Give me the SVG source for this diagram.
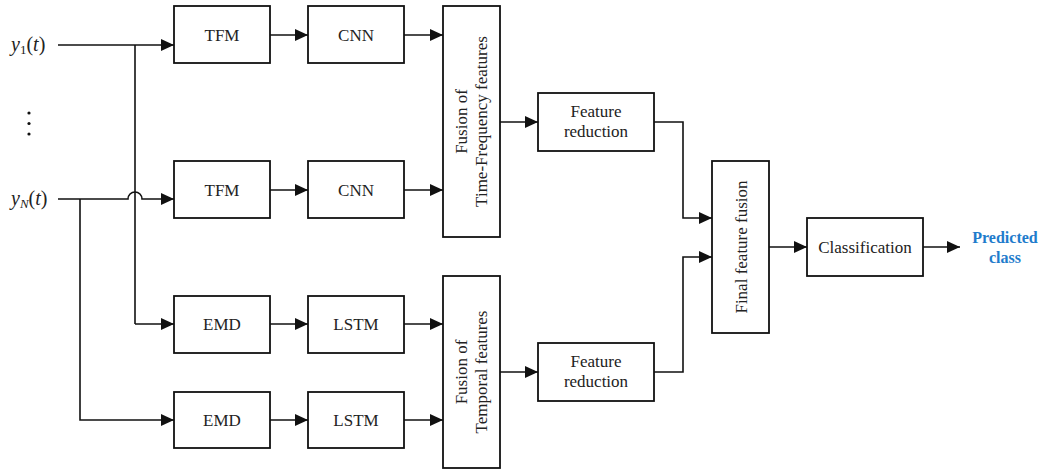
<svg xmlns="http://www.w3.org/2000/svg" width="1042" height="471" viewBox="0 0 1042 471">
  <style>
    .box { fill: #ffffff; stroke: #111111; stroke-width: 1.8; }
    .lbl { font-family: "Liberation Serif", "Times New Roman", serif; font-size: 17px; fill: #222222; text-anchor: middle; }
    .sig { font-family: "Liberation Serif", "Times New Roman", serif; font-size: 20px; fill: #222222; }
    .out { font-family: "Liberation Serif", "Times New Roman", serif; font-size: 16px; font-weight: bold; fill: #1f7ccc; text-anchor: middle; }
    .wire { fill: none; stroke: #111111; stroke-width: 1.6; }
    .arr { marker-end: url(#head); }
  </style>
  <defs>
    <marker id="head" markerUnits="userSpaceOnUse" markerWidth="14" markerHeight="12" refX="13" refY="6" orient="auto">
      <path d="M0,0 L13,6 L0,12 Z" fill="#111111"/>
    </marker>
  </defs>
  <rect width="1042" height="471" fill="#ffffff"/>

  <!-- input signals -->
  <g id="input-y1">
    <text class="sig" x="11" y="51"><tspan font-style="italic">y</tspan><tspan font-size="13" dy="3">1</tspan><tspan dy="-3">(</tspan><tspan font-style="italic">t</tspan><tspan>)</tspan></text>
  </g>
  <g id="input-dots" fill="#111111">
    <circle cx="29" cy="113" r="1.6"/>
    <circle cx="29" cy="123.5" r="1.6"/>
    <circle cx="29" cy="134" r="1.6"/>
  </g>
  <g id="input-yN">
    <text class="sig" x="11" y="205"><tspan font-style="italic">y</tspan><tspan font-size="13" font-style="italic" dy="3">N</tspan><tspan dy="-3">(</tspan><tspan font-style="italic">t</tspan><tspan>)</tspan></text>
  </g>

  <!-- time-frequency branch -->
  <g id="tfm1"><rect class="box" x="174" y="6" width="96" height="57"/><text class="lbl" x="222" y="41">TFM</text></g>
  <g id="cnn1"><rect class="box" x="308" y="6" width="96" height="57"/><text class="lbl" x="356" y="41">CNN</text></g>
  <g id="tfm2"><rect class="box" x="174" y="161" width="96" height="57"/><text class="lbl" x="222" y="196">TFM</text></g>
  <g id="cnn2"><rect class="box" x="308" y="161" width="96" height="57"/><text class="lbl" x="356" y="196">CNN</text></g>

  <!-- temporal branch -->
  <g id="emd1"><rect class="box" x="174" y="296" width="96" height="57"/><text class="lbl" x="222" y="330">EMD</text></g>
  <g id="lstm1"><rect class="box" x="308" y="296" width="96" height="57"/><text class="lbl" x="356" y="330">LSTM</text></g>
  <g id="emd2"><rect class="box" x="174" y="392" width="96" height="56"/><text class="lbl" x="222" y="426">EMD</text></g>
  <g id="lstm2"><rect class="box" x="308" y="392" width="96" height="56"/><text class="lbl" x="356" y="426">LSTM</text></g>

  <!-- fusion blocks -->
  <g id="fusion-tf">
    <rect class="box" x="443" y="6" width="57" height="231"/>
    <text class="lbl" transform="translate(471.5,121.5) rotate(-90)"><tspan x="0" y="-5">Fusion of</tspan><tspan x="0" y="15">Time-Frequency features</tspan></text>
  </g>
  <g id="fusion-temporal">
    <rect class="box" x="443" y="276" width="57" height="192"/>
    <text class="lbl" transform="translate(471.5,372) rotate(-90)"><tspan x="0" y="-5">Fusion of</tspan><tspan x="0" y="15">Temporal features</tspan></text>
  </g>

  <!-- reduction, final fusion and classifier -->
  <g id="reduction1">
    <rect class="box" x="538" y="93" width="116" height="58"/>
    <text class="lbl"><tspan x="596" y="117">Feature</tspan><tspan x="596" y="137">reduction</tspan></text>
  </g>
  <g id="reduction2">
    <rect class="box" x="538" y="343" width="116" height="58"/>
    <text class="lbl"><tspan x="596" y="367">Feature</tspan><tspan x="596" y="387">reduction</tspan></text>
  </g>
  <g id="final-fusion">
    <rect class="box" x="712" y="161" width="57" height="172"/>
    <text class="lbl" transform="translate(740.5,247) rotate(-90)" y="6">Final feature fusion</text>
  </g>
  <g id="classification">
    <rect class="box" x="807" y="218" width="116" height="58"/>
    <text class="lbl" x="865" y="253">Classification</text>
  </g>
  <g id="predicted">
    <text class="out"><tspan x="1005" y="243">Predicted</tspan><tspan x="1005" y="263">class</tspan></text>
  </g>

  <!-- connectors -->
  <g id="connectors">
    <path class="wire arr" d="M58,45 H174"/>
    <path class="wire" d="M135,45 V324"/>
    <path class="wire arr" d="M135,324 H174"/>
    <path class="wire arr" d="M58,199 H128 A7,7 0 0 1 142,199 H174"/>
    <path class="wire arr" d="M80,199 V420 H174"/>

    <path class="wire arr" d="M270,35 H308"/>
    <path class="wire arr" d="M404,35 H443"/>
    <path class="wire arr" d="M270,190 H308"/>
    <path class="wire arr" d="M404,190 H443"/>
    <path class="wire arr" d="M270,324 H308"/>
    <path class="wire arr" d="M404,324 H443"/>
    <path class="wire arr" d="M270,420 H308"/>
    <path class="wire arr" d="M404,420 H443"/>

    <path class="wire arr" d="M500,122 H538"/>
    <path class="wire arr" d="M500,372 H538"/>
    <path class="wire arr" d="M654,122 H683 V218 H712"/>
    <path class="wire arr" d="M654,372 H683 V257 H712"/>
    <path class="wire arr" d="M769,247 H807"/>
    <path class="wire arr" d="M923,247 H960"/>
  </g>
</svg>
